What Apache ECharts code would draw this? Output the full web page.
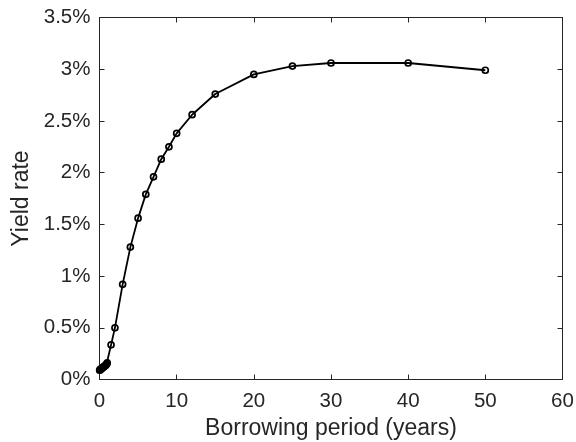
<!DOCTYPE html>
<html>
<head>
<meta charset="utf-8">
<script src="https://cdn.jsdelivr.net/npm/echarts@6/dist/echarts.min.js"></script>
<style>
  html, body { margin: 0; padding: 0; background: #fff; }
  #chart { width: 576px; height: 442px; }
</style>
</head>
<body>
<div id="chart"></div>
<script>
// Term structure: borrowing period (years) vs. yield rate (%)
const periods = [0.02, 0.083, 0.167, 0.25, 0.333, 0.417, 0.5, 0.583, 0.667, 0.75, 0.833, 0.917, 1,
                 1.5, 2, 3, 4, 5, 6, 7, 8, 9, 10, 12, 15, 20, 25, 30, 40, 50];
const yields  = [0.09, 0.095, 0.10, 0.105, 0.11, 0.115, 0.12, 0.125, 0.13, 0.135, 0.14, 0.15, 0.16,
                 0.335, 0.50, 0.92, 1.28, 1.56, 1.79, 1.96, 2.13, 2.25, 2.38, 2.56, 2.76, 2.95, 3.03, 3.06, 3.06, 2.99];

const xTicks = { min: 0, max: 60, step: 10 };
const yTicks = { min: 0, max: 3.5, step: 0.5 };

const ink = '#262626';
const font = 'Liberation Sans';

const chart = echarts.init(document.getElementById('chart'), null, { renderer: 'canvas' });

const baseAxis = {
  type: 'value',
  axisLine: { show: true, onZero: false, lineStyle: { color: ink, width: 1 } },
  axisTick: { show: true, inside: true, length: 5, lineStyle: { color: ink, width: 1 } },
  splitLine: { show: false },
  minorTick: { show: false }
};

chart.setOption({
  animation: false,
  backgroundColor: '#fff',
  grid: {
    left: 99.5, right: 13.5, top: 17.5, bottom: 62.5,
    containLabel: false,
    outerBoundsMode: 'none'
  },
  xAxis: [
    Object.assign({}, baseAxis, {
      position: 'bottom',
      min: xTicks.min, max: xTicks.max, interval: xTicks.step,
      name: 'Borrowing period (years)',
      nameLocation: 'middle',
      nameGap: 38,
      nameTextStyle: { color: ink, fontSize: 23, fontFamily: font },
      axisLabel: { color: ink, fontSize: 20.5, fontFamily: font, margin: 11 }
    }),
    Object.assign({}, baseAxis, {
      position: 'top',
      min: xTicks.min, max: xTicks.max, interval: xTicks.step,
      axisLabel: { show: false }
    })
  ],
  yAxis: [
    Object.assign({}, baseAxis, {
      position: 'left',
      min: yTicks.min, max: yTicks.max, interval: yTicks.step,
      name: 'Yield rate',
      nameLocation: 'middle',
      nameGap: 64,
      nameTextStyle: { color: ink, fontSize: 23, fontFamily: font },
      axisLabel: {
        color: ink, fontSize: 20.5, fontFamily: font, margin: 9,
        padding: [5, 0, 0, 0],
        formatter: v => (Math.round(v * 10) / 10) + '%'
      }
    }),
    Object.assign({}, baseAxis, {
      position: 'right',
      min: yTicks.min, max: yTicks.max, interval: yTicks.step,
      axisLabel: { show: false }
    })
  ],
  series: [{
    type: 'line',
    xAxisIndex: 0,
    yAxisIndex: 0,
    data: periods.map((p, i) => [p, yields[i]]),
    symbol: 'circle',
    symbolSize: 6,
    showAllSymbol: true,
    clip: false,
    lineStyle: { color: '#000', width: 1.8 },
    itemStyle: { color: 'rgba(0,0,0,0)', borderColor: '#000', borderWidth: 1.7 },
    emphasis: { disabled: true }
  }]
});
</script>
</body>
</html>
